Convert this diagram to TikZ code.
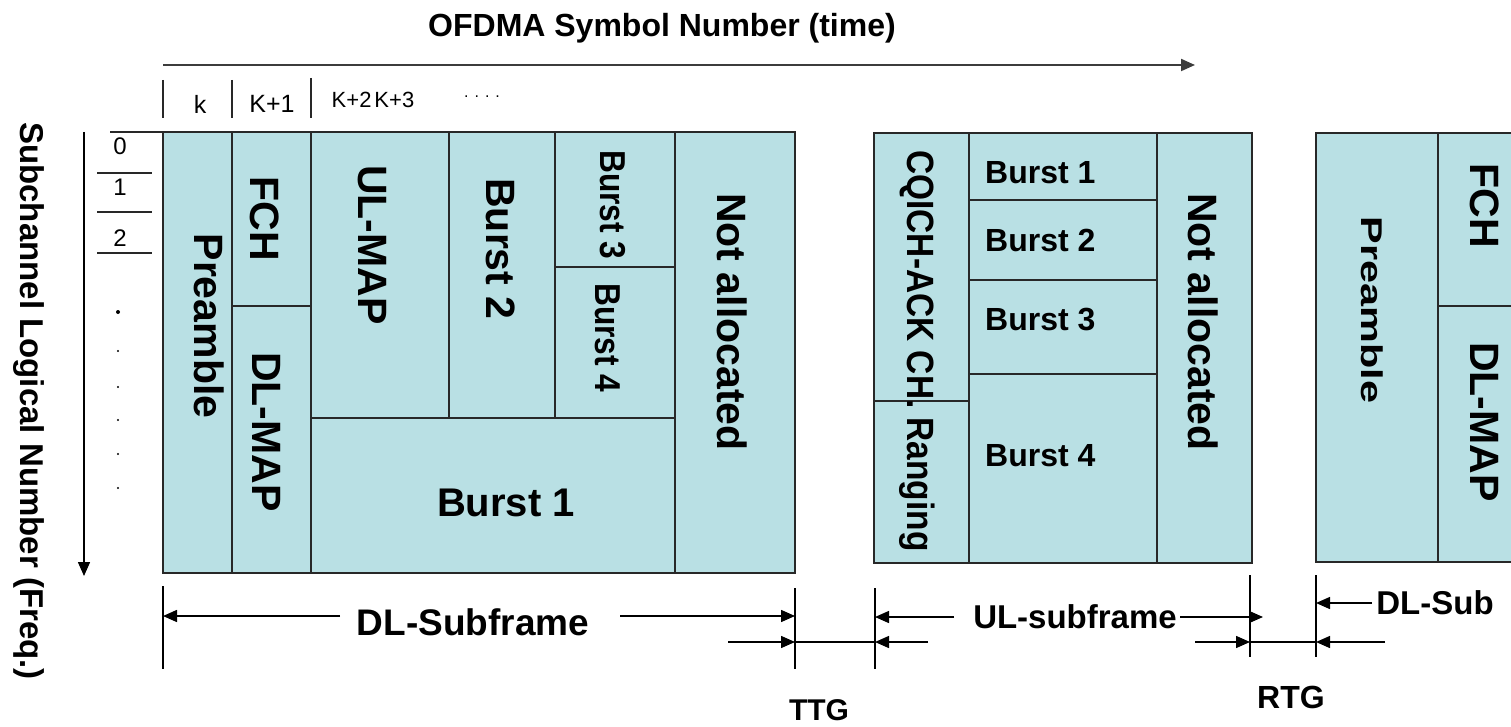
\documentclass[tikz,border=0pt]{standalone}
\usepackage{fontspec}
\setmainfont{Liberation Sans}
\usetikzlibrary{arrows.meta}
\definecolor{cellblue}{RGB}{185,224,228}
\definecolor{edgegray}{RGB}{40,40,40}
\newcommand\fsz[1]{\fontsize{#1}{#1}\selectfont}
\begin{document}
\begin{tikzpicture}[x=1pt,y=-1pt,
  cell/.style={fill=cellblue,draw=edgegray,line width=1.5pt},
  lbl/.style={inner sep=0pt,text=black},
  vlbl/.style={lbl,rotate=-90},
  big/.style={font=\fsz{41}\bfseries},
  small/.style={font=\fsz{32}\bfseries},
  tick/.style={draw=edgegray,line width=1.5pt},
  dim/.style={draw=black,line width=1.5pt},
  tipped/.style={dim,-{Triangle[length=14pt,width=12pt]}}
]
\path[use as bounding box,clip] (0,0) rectangle (1511,727);

% ---------- time axis ----------
\node[lbl,font=\fsz{32}\bfseries] (title) at (662,28) {OFDMA Symbol Number (time)};
\coordinate (tA) at (163,65);
\coordinate (tB) at (1195,65);
\draw[tipped,draw={rgb,255:red,60;green,60;blue,60},line width=2pt] (tA) -- (tB);
\draw[tick] (163,80) -- (163,118);
\draw[tick] (232,80) -- (232,118);
\draw[tick] (311,78) -- (311,118);
\node[lbl,font=\fsz{25}] (sk) at (200,104) {k};
\node[lbl,font=\fsz{25}] (sk1) at (272,104) {K+1};
\node[lbl,font=\fsz{22}] (sk23) at (373,100) {K+2\kern3pt K+3};
\node[lbl,font=\fsz{16}] (skd) at (482,97) {.\kern6pt.\kern6pt.\kern6pt.};

% ---------- frequency axis ----------
\node[vlbl,font=\fsz{33}\bfseries] (ftitle) at (29,401) {Subchannel Logical Number (Freq.)};
\coordinate (fA) at (84,132);
\coordinate (fB) at (84,576);
\draw[tipped] (fA) -- (fB);
\draw[tick] (110,132) -- (163,132);
\node[lbl,font=\fsz{24}] (r0) at (120,146) {0};
\node[lbl,font=\fsz{24}] (r1) at (120,187) {1};
\node[lbl,font=\fsz{24}] (r2) at (120,238) {2};
\draw[tick] (97,173) -- (152,173);
\draw[tick] (97,212) -- (152,212);
\draw[tick] (97,253) -- (152,253);
\fill (118,312) circle (2pt);
\foreach \yy in {351,387,420,454,488} \fill (118,\yy) circle (1.1pt);

% ---------- DL subframe ----------
\draw[cell] (163,132) rectangle (232,573);
\draw[cell] (232,132) rectangle (311,306);
\draw[cell] (232,306) rectangle (311,573);
\draw[cell] (311,132) rectangle (449,418);
\draw[cell] (449,132) rectangle (555,418);
\draw[cell] (555,132) rectangle (675,267);
\draw[cell] (555,267) rectangle (675,418);
\draw[cell] (311,418) rectangle (675,573);
\draw[cell] (675,132) rectangle (795,573);
\node[vlbl,big] (dlpre) at (209,326) {Preamble};
\node[vlbl,big] (dlfch) at (265,219) {FCH};
\node[vlbl,big] (dlmap) at (267,432) {DL-MAP};
\node[vlbl,big] (ulmap) at (372,245) {UL-MAP};
\node[vlbl,big] (dlb2) at (501,249) {Burst 2};
\node[vlbl,font=\fsz{36}\bfseries,xscale=0.88] (dlb3) at (613,205) {Burst 3};
\node[vlbl,font=\fsz{36}\bfseries,xscale=0.88] (dlb4) at (608,338) {Burst 4};
\node[vlbl,big] (dlna) at (732,322) {Not allocated};
\node[lbl,font=\fsz{40}\bfseries] (dlb1) at (506,503) {Burst 1};

% ---------- UL subframe ----------
\draw[cell] (874,133) rectangle (969,401);
\draw[cell] (874,401) rectangle (969,563);
\draw[cell] (969,133) rectangle (1157,200);
\draw[cell] (969,200) rectangle (1157,280);
\draw[cell] (969,280) rectangle (1157,374);
\draw[cell] (969,374) rectangle (1157,563);
\draw[cell] (1157,133) rectangle (1252,563);
\node[vlbl,font=\fsz{38}\bfseries,xscale=0.88] (ulcq) at (917,351) {CQICH-ACK CH. Ranging};
\node[lbl,small,anchor=west] (ulb1) at (985,173) {Burst 1};
\node[lbl,small,anchor=west] (ulb2) at (985,240) {Burst 2};
\node[lbl,small,anchor=west] (ulb3) at (985,320) {Burst 3};
\node[lbl,small,anchor=west] (ulb4) at (985,456) {Burst 4};
\node[vlbl,big] (ulna) at (1203,322) {Not allocated};

% ---------- next DL subframe ----------
\draw[cell] (1316,133) rectangle (1438,562);
\draw[cell] (1438,133) rectangle (1530,306);
\draw[cell] (1438,306) rectangle (1530,562);
\node[vlbl,font=\fsz{30}\bfseries,xscale=1.38] (dlpre2) at (1372,310) {Preamble};
\node[vlbl,big] (dlfch2) at (1485,206) {FCH};
\node[vlbl,big] (dlmap2) at (1485,422) {DL-MAP};

% ---------- duration markers ----------
\draw[tick,draw=black] (163,586) -- (163,669);
\draw[tick,draw=black] (795,588) -- (795,669);
\draw[tick,draw=black] (875,588) -- (875,669);
\draw[tick,draw=black] (1250,575) -- (1250,657);
\draw[tick,draw=black] (1316,575) -- (1316,657);

\node[lbl,font=\fsz{37}\bfseries] (dlsf) at (473,622) {DL-Subframe};
\coordinate (dlsfL0) at (340,616);
\coordinate (dlsfL1) at (163,616);
\coordinate (dlsfR0) at (620,616);
\coordinate (dlsfR1) at (795,616);
\draw[tipped] (dlsfL0) -- (dlsfL1);
\draw[tipped] (dlsfR0) -- (dlsfR1);

\coordinate (ttgA0) at (728,642);
\coordinate (ttgA) at (795,642);
\coordinate (ttgB) at (875,642);
\coordinate (ttgB0) at (928,642);
\draw[tipped] (ttgA0) -- (ttgA);
\draw[dim] (ttgA) -- (ttgB);
\draw[tipped] (ttgB0) -- (ttgB);
\node[lbl,font=\fsz{30}\bfseries] (ttg) at (819,710) {TTG};

\node[lbl,font=\fsz{33}\bfseries] (ulsf) at (1075,617) {UL-subframe};
\coordinate (ulsfL0) at (954,617);
\coordinate (ulsfL1) at (875,617);
\coordinate (ulsfR0) at (1180,617);
\coordinate (ulsfR1) at (1263,617);
\draw[tipped] (ulsfL0) -- (ulsfL1);
\draw[tipped] (ulsfR0) -- (ulsfR1);

\coordinate (rtgA0) at (1195,642);
\coordinate (rtgA) at (1250,642);
\coordinate (rtgB) at (1316,642);
\coordinate (rtgB0) at (1385,642);
\draw[tipped] (rtgA0) -- (rtgA);
\draw[dim] (rtgA) -- (rtgB);
\draw[tipped] (rtgB0) -- (rtgB);
\node[lbl,font=\fsz{32}\bfseries] (rtg) at (1291,697) {RTG};

\node[lbl,font=\fsz{33}\bfseries] (dlsub) at (1435,603) {DL-Sub};
\coordinate (dlsub0) at (1372,603);
\coordinate (dlsub1) at (1316,603);
\draw[tipped] (dlsub0) -- (dlsub1);
\end{tikzpicture}
\end{document}
